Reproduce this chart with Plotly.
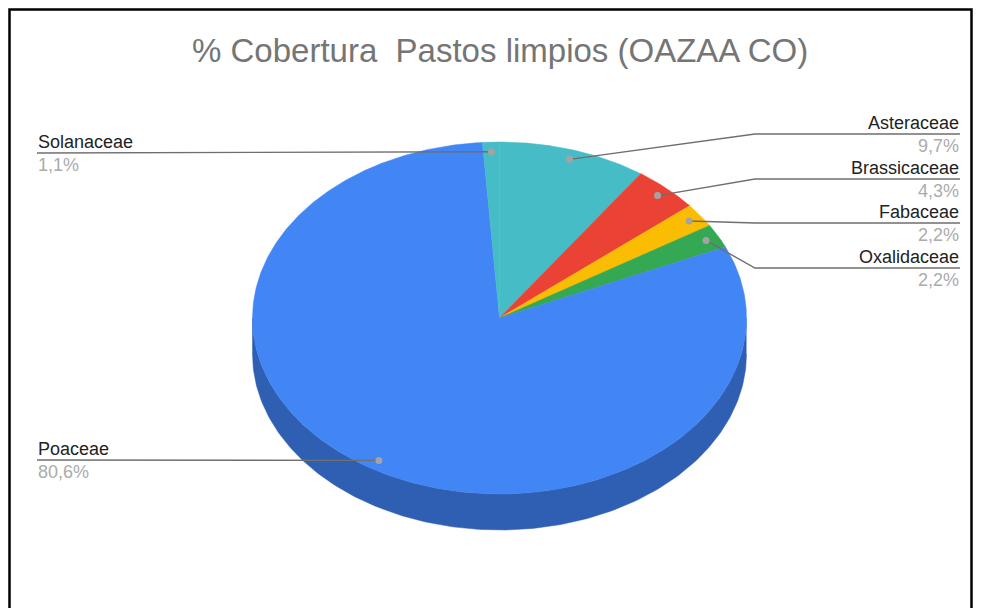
import numpy as np
import plotly.graph_objects as go

# slices in clockwise order starting at 12 o'clock
families = ["Asteraceae", "Brassicaceae", "Fabaceae", "Oxalidaceae", "Poaceae", "Solanaceae"]
cover = [9.7, 4.3, 2.2, 2.2, 80.6, 1.1]
top_colors = ["#46BDC6", "#EA4335", "#FBBC04", "#34A853", "#4285F4", "#46BDC6"]
side_colors = ["#3495a0", "#b8342a", "#c99603", "#278540", "#2f5fb3", "#3495a0"]

title = "% Cobertura  Pastos limpios (OAZAA CO)"

# geometry of the tilted pie (pixels of the page)
CX, CY = 499.5, 318
RX, RY = 247, 176
DEPTH = 36
DOT_R = 0.945

# label slots: side of chart and y of the leader line
label_slots = {
    "Asteraceae": ("right", 134),
    "Brassicaceae": ("right", 179),
    "Fabaceae": ("right", 223),
    "Oxalidaceae": ("right", 268),
    "Poaceae": ("left", 460),
    "Solanaceae": ("left", 153),
}
RIGHT_ELBOW, RIGHT_END, LEFT_END = 755, 960, 37

FONT = "Arial, Liberation Sans, sans-serif"
PAD = 8  # page body margin


def ell(theta, r=1.0, dy=0.0):
    return CX + r * RX * np.sin(theta), CY - r * RY * np.cos(theta) + dy


fig = go.Figure()

vals = np.array(cover, dtype=float)
frac = vals / vals.sum()
ends = np.cumsum(frac) * 2 * np.pi
starts = ends - frac * 2 * np.pi

# side walls (only the front half, 90..270 deg, is visible)
for s, e, c in zip(starts, ends, side_colors):
    a0, a1 = max(s, np.pi / 2), min(e, 3 * np.pi / 2)
    if a1 <= a0:
        continue
    t = np.linspace(a0, a1, 200)
    xt, yt = ell(t)
    xb, yb = ell(t[::-1], dy=DEPTH)
    fig.add_trace(go.Scatter(
        x=np.concatenate([xt, xb]), y=np.concatenate([yt, yb]),
        fill="toself", fillcolor=c, line=dict(width=0.5, color=c),
        mode="lines", hoverinfo="skip", showlegend=False))

# top faces
for s, e, c in zip(starts, ends, top_colors):
    t = np.linspace(s, e, max(int((e - s) * 120), 4))
    xs, ys = ell(t)
    fig.add_trace(go.Scatter(
        x=np.concatenate([[CX], xs, [CX]]), y=np.concatenate([[CY], ys, [CY]]),
        fill="toself", fillcolor=c, line=dict(width=0.5, color=c),
        mode="lines", hoverinfo="skip", showlegend=False))

# leader lines, dots and labels
for name, v, s, e in zip(families, cover, starts, ends):
    side, ly = label_slots[name]
    dx, dy = ell((s + e) / 2, r=DOT_R)
    if side == "right":
        lx, lys = [dx, RIGHT_ELBOW, RIGHT_END], [dy, ly, ly]
        tx, anchor = RIGHT_END, "right"
    else:
        lx, lys = [dx, LEFT_END], [dy, ly]
        tx, anchor = LEFT_END, "left"
    fig.add_trace(go.Scatter(x=lx, y=lys, mode="lines",
                             line=dict(color="#6f6f6f", width=1.4),
                             hoverinfo="skip", showlegend=False))
    fig.add_trace(go.Scatter(x=[dx], y=[dy], mode="markers",
                             marker=dict(size=7, color="#a3a3a3"),
                             hoverinfo="skip", showlegend=False))
    fig.add_annotation(x=tx, y=ly - 0.5, text=name, showarrow=False,
                       xanchor=anchor, yanchor="bottom", borderpad=0,
                       font=dict(family=FONT, size=18, color="#222222"))
    pct = f"{v:.1f}".replace(".", ",") + "%"
    fig.add_annotation(x=tx, y=ly + 1, text=pct, showarrow=False,
                       xanchor=anchor, yanchor="top", borderpad=0,
                       font=dict(family=FONT, size=18, color="#ababab"))

fig.add_annotation(x=CX, y=50, text=title, showarrow=False,
                   xanchor="center", yanchor="middle",
                   font=dict(family=FONT, size=33, color="#757575"))

# outer frame (kept just inside the drawable area)
fig.add_shape(type="rect", x0=PAD + 1.5, y0=PAD + 1.5, x1=971.5, y1=660,
              line=dict(color="black", width=2.5))

fig.update_layout(
    width=981 - 2 * PAD, height=616 - 2 * PAD,
    margin=dict(l=0, r=0, t=0, b=0),
    paper_bgcolor="white", plot_bgcolor="white",
    xaxis=dict(range=[PAD, 981 - PAD], visible=False, fixedrange=True),
    yaxis=dict(range=[616 - PAD, PAD], visible=False, fixedrange=True),
    showlegend=False,
)

fig.write_html("out.html")
